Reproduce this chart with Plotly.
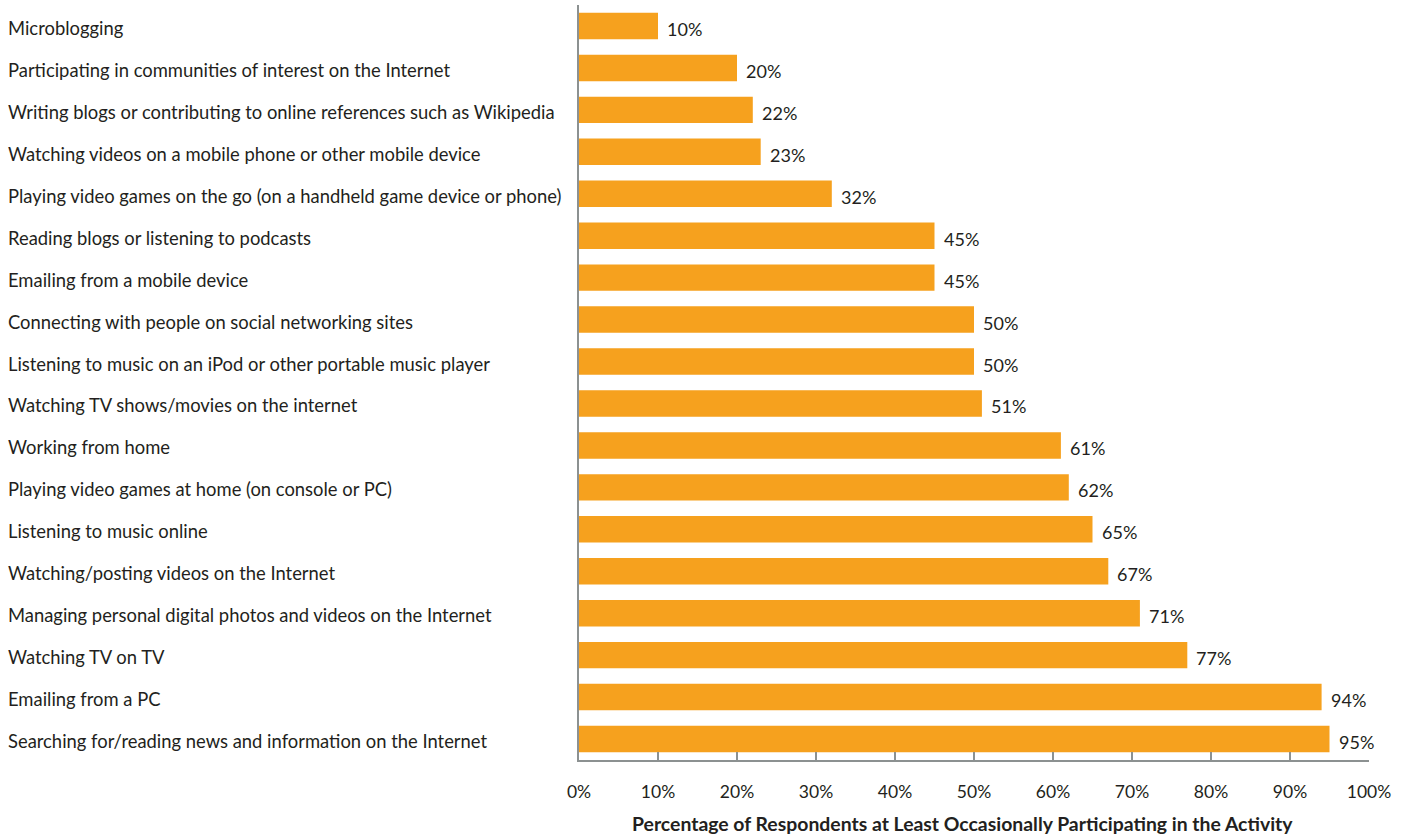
import plotly.graph_objects as go

# Activities, top to bottom as displayed
activities = [
    "Microblogging",
    "Participating in communities of interest on the Internet",
    "Writing blogs or contributing to online references such as Wikipedia",
    "Watching videos on a mobile phone or other mobile device",
    "Playing video games on the go (on a handheld game device or phone)",
    "Reading blogs or listening to podcasts",
    "Emailing from a mobile device",
    "Connecting with people on social networking sites",
    "Listening to music on an iPod or other portable music player",
    "Watching TV shows/movies on the internet",
    "Working from home",
    "Playing video games at home (on console or PC)",
    "Listening to music online",
    "Watching/posting videos on the Internet",
    "Managing personal digital photos and videos on the Internet",
    "Watching TV on TV",
    "Emailing from a PC",
    "Searching for/reading news and information on the Internet",
]
share_pct = [10, 20, 22, 23, 32, 45, 45, 50, 50, 51, 61, 62, 65, 67, 71, 77, 94, 95]
x_ticks = [0, 10, 20, 30, 40, 50, 60, 70, 80, 90, 100]
x_title = "Percentage of Respondents at Least Occasionally Participating in the Activity"

FONT = "Lato"
TEXT_COLOR = "#231f20"
BAR_COLOR = "#F6A11E"
AXIS_COLOR = "#8c9191"

W, H = 1409, 837
ML, MR, MT, MB = 579, 40, 5, 77
plot_w = W - ML - MR

fig = go.Figure(
    go.Bar(
        x=share_pct,
        y=activities,
        orientation="h",
        marker=dict(color=BAR_COLOR, line=dict(width=0)),
        width=0.63,
        hoverinfo="x+y",
    )
)

annotations = []
# Category labels, left-aligned at the page edge
for name in activities:
    annotations.append(dict(
        x=(10 - ML) / plot_w, xref="paper", xanchor="left", xshift=-3,
        y=name, yref="y", yanchor="middle", yshift=-2,
        text=name, showarrow=False, borderpad=0,
        font=dict(family=FONT, size=18.4, color=TEXT_COLOR),
    ))
# Value labels just past the end of each bar
for name, v in zip(activities, share_pct):
    annotations.append(dict(
        x=v, xref="x", xanchor="left", xshift=8,
        y=name, yref="y", yanchor="middle", yshift=-3,
        text=f"{v}%", showarrow=False, borderpad=0,
        font=dict(family=FONT, size=18, color=TEXT_COLOR),
    ))
# Axis title below the tick labels
annotations.append(dict(
    x=0.5, xref="paper", xanchor="center", xshift=-12,
    y=0, yref="paper", yanchor="top", yshift=-51,
    text=f"<b>{x_title}</b>", showarrow=False, borderpad=0,
    font=dict(family=FONT, size=19.4, color=TEXT_COLOR),
))

fig.update_layout(
    width=W, height=H,
    margin=dict(l=ML, r=MR, t=MT, b=MB, pad=0),
    paper_bgcolor="white", plot_bgcolor="white",
    showlegend=False,
    annotations=annotations,
    xaxis=dict(
        range=[0, 100],
        tickvals=x_ticks,
        ticktext=[f"{t}%" for t in x_ticks],
        ticks="inside", ticklen=8, tickcolor=AXIS_COLOR, tickwidth=2,
        showline=True, linecolor=AXIS_COLOR, linewidth=2,
        showgrid=False, zeroline=False,
        ticklabelstandoff=15,
        tickfont=dict(family=FONT, size=17.5, color=TEXT_COLOR),
        fixedrange=True,
    ),
    yaxis=dict(
        autorange="reversed",
        showticklabels=False, ticks="",
        showline=True, linecolor=AXIS_COLOR, linewidth=2,
        showgrid=False, zeroline=False,
        fixedrange=True,
    ),
)

fig.write_html("out.html")
